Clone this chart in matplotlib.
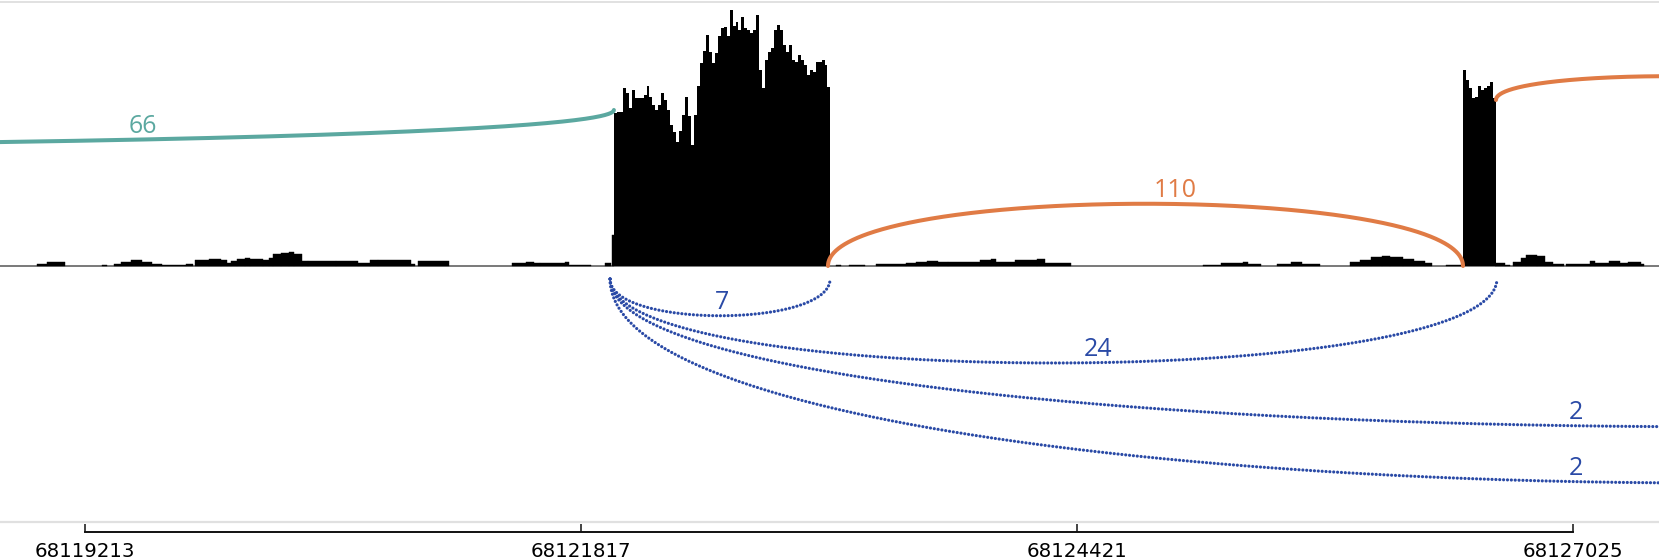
import numpy as np
import matplotlib
matplotlib.use("Agg")
import matplotlib.pyplot as plt

# ---------------- data ----------------
WINDOW = (68118767, 68127477)                      # visible genomic window
axis_ticks = [68119213, 68121817, 68124421, 68127025]
tick_labels = [str(t) for t in axis_ticks]

# exon read coverage (equal-width bins across each exon)
exon1_span = (68121990, 68123127)
exon1_cov = [153, 154, 154, 178, 173, 158, 176, 168, 168, 168,
             171, 180, 169, 161, 156, 161, 173, 166, 156, 141,
             134, 124, 135, 151, 169, 150, 121, 151, 180, 203,
             215, 231, 214, 203, 213, 230, 238, 239, 230, 256,
             240, 244, 236, 249, 238, 236, 233, 236, 251, 196,
             178, 206, 214, 218, 236, 241, 236, 221, 214, 221,
             206, 204, 211, 206, 201, 191, 196, 194, 204, 204,
             206, 201, 179]
exon2_span = (68126446, 68126619)
exon2_cov = [196, 186, 178, 168, 169, 180, 176, 178, 180, 184, 168]

# low background coverage (intronic reads)
bg_start = [68118961, 68119014, 68119303, 68119366, 68119402, 68119455, 68119513,
            68119565, 68119618, 68119744, 68119791, 68119864, 68119927, 68119959,
            68119980, 68120011, 68120053, 68120080, 68120148, 68120179, 68120200,
            68120242, 68120284, 68120311, 68120353, 68120384, 68120531, 68120647,
            68120710, 68120752, 68120925, 68120962, 68121455, 68121529, 68121571,
            68121602, 68121733, 68121754, 68121943, 68121979,
            68123156, 68123224, 68123366, 68123524, 68123576, 68123634, 68123692,
            68123744, 68123912, 68123970, 68123996, 68124096, 68124211, 68124253,
            68125083, 68125177, 68125293, 68125319, 68125471, 68125545, 68125603,
            68125855, 68125907, 68125965, 68126023, 68126065, 68126133, 68126191,
            68126248, 68126359, 68126616, 68126668, 68126710, 68126752, 68126779,
            68126836, 68126878, 68126920, 68126989, 68127115, 68127141, 68127214,
            68127272, 68127314, 68127382]
bg_end = [68119014, 68119108, 68119329, 68119402, 68119455, 68119513, 68119565,
          68119618, 68119744, 68119780, 68119864, 68119927, 68119959, 68119980,
          68120011, 68120053, 68120080, 68120148, 68120179, 68120200, 68120242,
          68120284, 68120311, 68120353, 68120384, 68120531, 68120647, 68120710,
          68120752, 68120925, 68120946, 68121124, 68121529, 68121571, 68121602,
          68121733, 68121754, 68121870, 68121975, 68121990,
          68123182, 68123308, 68123524, 68123576, 68123634, 68123692, 68123744,
          68123912, 68123970, 68123996, 68124096, 68124211, 68124253, 68124390,
          68125177, 68125293, 68125319, 68125387, 68125545, 68125603, 68125697,
          68125907, 68125965, 68126023, 68126065, 68126133, 68126191, 68126248,
          68126285, 68126443, 68126668, 68126695, 68126752, 68126779, 68126836,
          68126878, 68126920, 68126978, 68127115, 68127141, 68127214, 68127272,
          68127314, 68127382, 68127398]
bg_cov = [2, 4, 1.5, 2, 4, 6, 4,
          2, 1, 2.5, 6, 7.5, 6, 3,
          5.5, 7, 8.5, 7.5, 6, 8.5, 12,
          13, 14.5, 12, 5.5, 5, 5, 3.5,
          6, 6, 2, 5, 3, 4.5, 3,
          3.5, 4.5, 1.5, 3, 31,
          1.5, 1.5, 2, 3.5, 4.5, 5.5, 4.5,
          4.5, 6, 7.5, 4.5, 6.5, 7.5, 3.5,
          1, 3, 4, 2, 2, 4.5, 2.5,
          4, 6, 9, 10.5, 9, 7, 5,
          3, 1.5, 3, 1, 4.5, 8, 11,
          10, 4.5, 2, 2.5, 5, 3, 5,
          3, 4.5, 2]

# splice junctions (arcs): genomic ends, arc end heights / control height
jx_start  = [68109653, 68123114, 68126621, 68121970, 68121970, 68121970, 68121970]
jx_end    = [68121990, 68126448, 68128196, 68123125, 68126626, 68133520, 68133520]
jx_y1     = [156, 0, 166, -13, -13, -13, -13]
jx_y2     = [156, 0, 175, -13, -13, -13, -13]
jx_yctrl  = [108, 83, 196, -62, -125, -210, -285]
jx_label  = ["66", "110", "", "7", "24", "2", "2"]
jx_lab_x  = [68119518, 68124936, None, 68122558, 68124532, 68127041, 68127041]
jx_group  = ["teal", "orange", "orange", "blue", "blue", "blue", "blue"]

COLORS = {"teal": "#5ba8a0", "orange": "#e07b45", "blue": "#2a4aa6"}

# ---------------- figure ----------------
W, H = 1659, 558
fig = plt.figure(figsize=(W / 100, H / 100), dpi=100)
ax = fig.add_axes([0, 36 / H, 1, 520 / H])
ax.set_xlim(*WINDOW)
ax.set_ylim(-256, 264)
ax.set_xticks([])
ax.set_yticks([])
for s in ("left", "right"):
    ax.spines[s].set_visible(False)
ax.spines["top"].set_color("#dcdcdc")
ax.spines["top"].set_linewidth(1.2)
ax.spines["bottom"].set_color("#e0e0e0")
ax.spines["bottom"].set_linewidth(1.6)

# baseline
ax.axhline(0, color="#6e6e6e", lw=1.3, zorder=1)

# background coverage
ax.bar(bg_start, bg_cov, width=np.subtract(bg_end, bg_start), align="edge",
       color="black", edgecolor="black", linewidth=0.3, zorder=2)

# exon coverage
for span, cov in ((exon1_span, exon1_cov), (exon2_span, exon2_cov)):
    edges = np.linspace(span[0], span[1], len(cov) + 1)
    vals = np.r_[cov, cov[-1]]
    ax.fill_between(edges, vals, 0, step="post", color="black", lw=0, zorder=2)


def bezier(x1, x2, y1, y2, yc, n=600):
    t = np.linspace(0, 1, n)
    x = (1 - t) ** 3 * x1 + 3 * (1 - t) ** 2 * t * x1 + 3 * (1 - t) * t ** 2 * x2 + t ** 3 * x2
    y = (1 - t) ** 3 * y1 + 3 * (1 - t) ** 2 * t * yc + 3 * (1 - t) * t ** 2 * yc + t ** 3 * y2
    return x, y


for x1, x2, y1, y2, yc, lab, lx, grp in zip(jx_start, jx_end, jx_y1, jx_y2,
                                             jx_yctrl, jx_label, jx_lab_x, jx_group):
    xs, ys = bezier(x1, x2, y1, y2, yc)
    col = COLORS[grp]
    if grp == "blue":
        ax.plot(xs, ys, color=col, lw=2.3, ls=(0, (0.01, 1.2)),
                dash_capstyle="round", zorder=4, clip_on=True)
    else:
        ax.plot(xs, ys, color=col, lw=2.9, solid_capstyle="round", zorder=4)
    if lab and lx is not None:
        ly = np.interp(lx, xs, ys)
        ax.annotate(lab, (lx, ly), xytext=(0, 5), textcoords="offset points",
                    ha="center", va="baseline", color=col, fontsize=18,
                    family=["Open Sans", "DejaVu Sans"], zorder=5)

# genomic coordinate axis
ax2 = fig.add_axes([0, 26 / H, 1, 0.002])
ax2.set_facecolor("none")
ax2.set_xlim(*WINDOW)
ax2.set_yticks([])
for s in ("left", "right", "top"):
    ax2.spines[s].set_visible(False)
ax2.spines["bottom"].set_bounds(axis_ticks[0], axis_ticks[-1])
ax2.spines["bottom"].set_linewidth(1.4)
ax2.spines["bottom"].set_color("#111111")
ax2.set_xticks(axis_ticks)
ax2.set_xticklabels(tick_labels, family="DejaVu Sans", fontsize=14.2)
ax2.tick_params(axis="x", direction="in", length=6, width=1.1, pad=7,
                color="#111111")

fig.savefig("out.png", dpi=100)
